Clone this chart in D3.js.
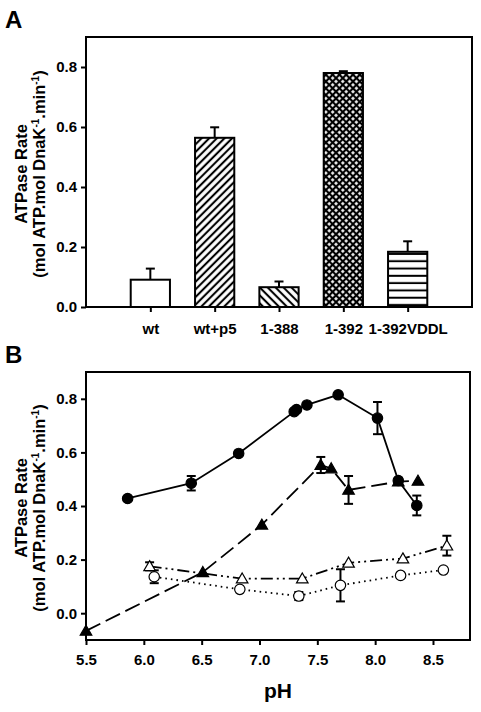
<!DOCTYPE html>
<html>
<head>
<meta charset="utf-8">
<script src="https://cdn.jsdelivr.net/npm/d3@7/dist/d3.min.js"></script>
<style>
  html, body { margin: 0; padding: 0; background: #fff; }
  svg { display: block; font-family: Arial, "Liberation Sans", Helvetica, sans-serif; }
</style>
</head>
<body>
<script>
// ---------- Panel A data ----------
const categories = ["wt", "wt+p5", "1-388", "1-392", "1-392VDDL"];
const rates = [0.091, 0.564, 0.066, 0.780, 0.184];
const rateErr = [0.037, 0.035, 0.019, 0.006, 0.035];
const yTicksA = [0.0, 0.2, 0.4, 0.6, 0.8];

// ---------- Panel B data ----------
const filledCirclePH = [5.86, 6.41, 6.82, 7.30, 7.32, 7.41, 7.68, 8.02, 8.20, 8.36];
const filledCircleVal = [0.428, 0.485, 0.596, 0.752, 0.760, 0.777, 0.815, 0.728, 0.495, 0.402];
const filledCircleErr = [0, 0.027, 0, 0, 0, 0, 0, 0.060, 0.010, 0.037];

const filledTriPH = [5.50, 6.51, 7.02, 7.53, 7.62, 7.77, 8.20, 8.37];
const filledTriVal = [-0.066, 0.153, 0.330, 0.553, 0.540, 0.460, 0.491, 0.494];
const filledTriErr = [0, 0, 0, 0.030, 0, 0.052, 0, 0];

const openTriPH = [6.05, 6.85, 7.37, 7.77, 8.24, 8.62];
const openTriVal = [0.175, 0.129, 0.129, 0.188, 0.204, 0.252];
const openTriErr = [0.015, 0, 0, 0, 0, 0.037];

const openCirclePH = [6.09, 6.83, 7.34, 7.70, 8.22, 8.59];
const openCircleVal = [0.136, 0.089, 0.064, 0.104, 0.141, 0.161];
const openCircleErr = [0.024, 0, 0.015, 0.060, 0, 0];

const xTicksB = [5.5, 6.0, 6.5, 7.0, 7.5, 8.0, 8.5];
const yTicksB = [0.0, 0.2, 0.4, 0.6, 0.8];

const W = 481, H = 712;
const svg = d3.select("body").append("svg").attr("width", W).attr("height", H);

// ---------- patterns ----------
const defs = svg.append("defs");
function linePattern(id, size, angle, lw) {
  const p = defs.append("pattern").attr("id", id).attr("patternUnits", "userSpaceOnUse")
    .attr("width", size).attr("height", size)
    .attr("patternTransform", `rotate(${angle})`);
  p.append("rect").attr("width", size).attr("height", size).attr("fill", "#fff");
  p.append("line").attr("x1", 0).attr("y1", size / 2).attr("x2", size).attr("y2", size / 2)
    .attr("stroke", "#000").attr("stroke-width", lw);
}
linePattern("diagUp", 5.4, -45, 2.1);
linePattern("diagDown", 5.6, 45, 2.1);
// horizontal
(function () {
  const s = 7.3;
  const p = defs.append("pattern").attr("id", "horiz").attr("patternUnits", "userSpaceOnUse")
    .attr("width", 10).attr("height", s).attr("y", 307 - 1);
  p.append("rect").attr("width", 10).attr("height", s).attr("fill", "#fff");
  p.append("rect").attr("x", 0).attr("y", s - 2).attr("width", 10).attr("height", 2).attr("fill", "#000");
})();
// crosshatch
(function () {
  const s = 4.8;
  const p = defs.append("pattern").attr("id", "cross").attr("patternUnits", "userSpaceOnUse")
    .attr("width", s).attr("height", s).attr("patternTransform", "rotate(45)");
  p.append("rect").attr("width", s).attr("height", s).attr("fill", "#000");
  p.append("rect").attr("x", 1.1).attr("y", 1.1).attr("width", 2.6).attr("height", 2.6).attr("fill", "#fff");
})();
const fills = ["#fff", "url(#diagUp)", "url(#diagDown)", "url(#cross)", "url(#horiz)"];

// ---------- Panel A ----------
const A = { left: 86, right: 472, top: 37, bottom: 307 };
const xA = d3.scaleLinear().domain([0, 6]).range([A.left, A.right]);
const yA = d3.scaleLinear().domain([0, 0.9]).range([A.bottom, A.top]);
const barW = 0.61;
const gA = svg.append("g");

gA.selectAll("rect.bar").data(categories).join("rect")
  .attr("x", (d, i) => xA(i + 1 - barW / 2))
  .attr("width", (d, i) => xA(i + 1 + barW / 2) - xA(i + 1 - barW / 2))
  .attr("y", (d, i) => yA(rates[i]))
  .attr("height", (d, i) => yA(0) - yA(rates[i]))
  .attr("fill", (d, i) => fills[i])
  .attr("stroke", "#000").attr("stroke-width", 2);

// error bars (upper only)
categories.forEach((c, i) => {
  const cx = xA(i + 1);
  gA.append("line").attr("x1", cx).attr("x2", cx)
    .attr("y1", yA(rates[i])).attr("y2", yA(rates[i] + rateErr[i]))
    .attr("stroke", "#000").attr("stroke-width", 2);
  gA.append("line").attr("x1", cx - 4.5).attr("x2", cx + 4.5)
    .attr("y1", yA(rates[i] + rateErr[i])).attr("y2", yA(rates[i] + rateErr[i]))
    .attr("stroke", "#000").attr("stroke-width", 2);
});

// frame
gA.append("rect").attr("x", A.left).attr("y", A.top)
  .attr("width", A.right - A.left).attr("height", A.bottom - A.top)
  .attr("fill", "none").attr("stroke", "#000").attr("stroke-width", 2);

// axes
const axYA = d3.axisLeft(yA).tickValues(yTicksA).tickFormat(d3.format(".1f")).tickSize(5).tickPadding(4);
const gyA = gA.append("g").attr("transform", `translate(${A.left},0)`).call(axYA);
const axXA = d3.axisBottom(xA).tickValues([1, 2, 3, 4, 5]).tickFormat((d) => categories[d - 1]).tickSize(5).tickPadding(11);
const gxA = gA.append("g").attr("transform", `translate(0,${A.bottom})`).call(axXA);
[gyA, gxA].forEach(g => {
  g.select(".domain").remove();
  g.selectAll(".tick line").attr("stroke", "#000").attr("stroke-width", 2);
  g.selectAll(".tick text").attr("font-size", 15).attr("font-weight", "bold").attr("fill", "#000")
    .attr("font-family", "Arial, 'Liberation Sans', sans-serif");
});

// ---------- Panel B ----------
const B = { left: 86, right: 470, top: 372, bottom: 640 };
const xB = d3.scaleLinear().domain([5.5, 8.82]).range([B.left, B.right]);
const yB = d3.scaleLinear().domain([-0.1, 0.9]).range([B.bottom, B.top]);
const gB = svg.append("g");

function zipSeries(px, vals, errs) {
  return px.map((p, i) => ({ x: p, y: vals[i], e: errs[i] }));
}
const series = [
  { data: zipSeries(filledCirclePH, filledCircleVal, filledCircleErr), dash: null, shape: "circle", fill: "#000" },
  { data: zipSeries(filledTriPH, filledTriVal, filledTriErr), dash: "16,6", shape: "tri", fill: "#000" },
  { data: zipSeries(openTriPH, openTriVal, openTriErr), dash: "12,4,2,4,2,4", shape: "tri", fill: "#fff" },
  { data: zipSeries(openCirclePH, openCircleVal, openCircleErr), dash: "1.6,4", shape: "circle", fill: "#fff" }
];

const lineGen = d3.line().x(d => xB(d.x)).y(d => yB(d.y));

series.forEach(s => {
  gB.append("path").datum(s.data).attr("d", lineGen)
    .attr("fill", "none").attr("stroke", "#000")
    .attr("stroke-width", 1.8)
    .attr("stroke-dasharray", s.dash);
});
series.forEach(s => {
  s.data.filter(d => d.e > 0).forEach(d => {
    const cx = xB(d.x);
    const y1 = yB(d.y - d.e), y2 = yB(d.y + d.e);
    gB.append("line").attr("x1", cx).attr("x2", cx).attr("y1", y1).attr("y2", y2)
      .attr("stroke", "#000").attr("stroke-width", 2);
    [y1, y2].forEach(yy => gB.append("line").attr("x1", cx - 4.5).attr("x2", cx + 4.5)
      .attr("y1", yy).attr("y2", yy).attr("stroke", "#000").attr("stroke-width", 2));
  });
});
const triPath = d3.symbol().type(d3.symbolTriangle).size(58)();
series.forEach(s => {
  const g = gB.append("g");
  if (s.shape === "circle") {
    g.selectAll("circle").data(s.data).join("circle")
      .attr("cx", d => xB(d.x)).attr("cy", d => yB(d.y)).attr("r", 5.2)
      .attr("fill", s.fill).attr("stroke", "#000").attr("stroke-width", 1.2);
  } else {
    g.selectAll("path").data(s.data).join("path")
      .attr("d", triPath)
      .attr("transform", d => `translate(${xB(d.x)},${yB(d.y) + 1})`)
      .attr("fill", s.fill).attr("stroke", "#000").attr("stroke-width", 1.2);
  }
});

gB.append("rect").attr("x", B.left).attr("y", B.top)
  .attr("width", B.right - B.left).attr("height", B.bottom - B.top)
  .attr("fill", "none").attr("stroke", "#000").attr("stroke-width", 2);

const axYB = d3.axisLeft(yB).tickValues(yTicksB).tickFormat(d3.format(".1f")).tickSize(5).tickPadding(4);
const gyB = gB.append("g").attr("transform", `translate(${B.left},0)`).call(axYB);
const axXB = d3.axisBottom(xB).tickValues(xTicksB).tickFormat(d3.format(".1f")).tickSize(5).tickPadding(9);
const gxB = gB.append("g").attr("transform", `translate(0,${B.bottom})`).call(axXB);
[gyB, gxB].forEach(g => {
  g.select(".domain").remove();
  g.selectAll(".tick line").attr("stroke", "#000").attr("stroke-width", 2);
  g.selectAll(".tick text").attr("font-size", 15).attr("font-weight", "bold").attr("fill", "#000")
    .attr("font-family", "Arial, 'Liberation Sans', sans-serif");
});

// ---------- Text ----------
function yLabel(cy) {
  const t = svg.append("text").attr("transform", `translate(27,${cy}) rotate(-90)`)
    .attr("text-anchor", "middle").attr("font-size", 16.5).attr("font-weight", "bold").attr("fill", "#000");
  t.text("ATPase Rate");
  const t2 = svg.append("text").attr("transform", `translate(45,${cy}) rotate(-90)`)
    .attr("text-anchor", "middle").attr("font-size", 16.5).attr("font-weight", "bold").attr("fill", "#000");
  t2.append("tspan").text("(mol ATP.mol DnaK");
  t2.append("tspan").attr("dy", -6).attr("font-size", 10).text("-1");
  t2.append("tspan").attr("dy", 6).text(".min");
  t2.append("tspan").attr("dy", -6).attr("font-size", 10).text("-1");
  t2.append("tspan").attr("dy", 6).text(")");
}
yLabel((A.top + A.bottom) / 2 + 2);
yLabel((B.top + B.bottom) / 2 + 2);

svg.append("text").attr("x", 5).attr("y", 28).attr("font-size", 24).attr("font-weight", "bold").text("A");
svg.append("text").attr("x", 5).attr("y", 363).attr("font-size", 24).attr("font-weight", "bold").text("B");
svg.append("text").attr("x", (B.left + B.right) / 2).attr("y", 698).attr("text-anchor", "middle")
  .attr("font-size", 21).attr("font-weight", "bold").text("pH");
</script>
</body>
</html>
